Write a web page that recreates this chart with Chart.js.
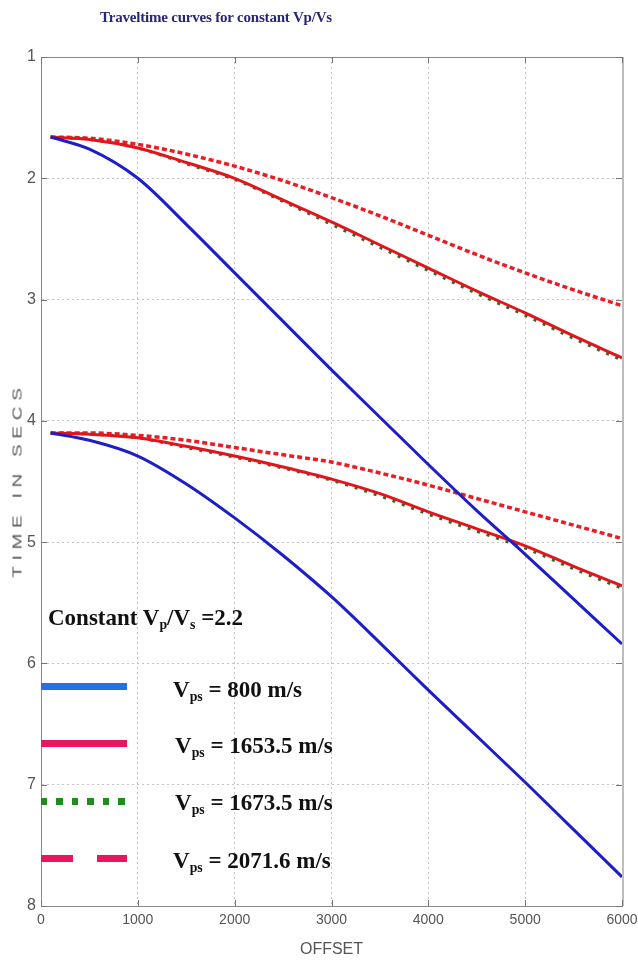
<!DOCTYPE html>
<html>
<head>
<meta charset="utf-8">
<script src="https://cdn.jsdelivr.net/npm/chart.js@4.4.1/dist/chart.umd.min.js"></script>
<style>
    html, body { margin: 0; padding: 0; background: #fff; }
    #wrap { position: relative; width: 638px; height: 964px; overflow: hidden; }
    #plot { position: absolute; left: 0; top: 0; }
    .title {
        position: absolute; left: 100px; top: 9px;
        font: bold 15px "Liberation Serif", "Times New Roman", serif;
        color: #27277a; white-space: nowrap; letter-spacing: -0.2px;
    }
    .ylab {
        position: absolute; left: 17px; top: 480px;
        transform: translate(-50%, -50%) rotate(-90deg) scaleX(1.45);
        font: 13px "Liberation Sans", Arial, sans-serif;
        letter-spacing: 4px; color: #555; white-space: nowrap;
    }
    .note {
        position: absolute; left: 48px;
        font: bold 23px "Liberation Serif", "Times New Roman", serif;
        line-height: 1; color: #111; white-space: nowrap;
    }
    .note sub { font-size: 60%; vertical-align: -0.3em; line-height: 0; }
    .swatch { position: absolute; left: 41px; width: 86px; height: 7px; }
</style>
</head>
<body>
<div id="wrap">
    <canvas id="plot" width="638" height="964"></canvas>
    <div class="title">Traveltime curves for constant Vp/Vs</div>
    <div class="ylab">TIME IN SECS</div>

    <div class="note" style="top:606px">Constant V<sub>p</sub>/V<sub>s</sub> =2.2</div>

    <div class="swatch" style="top:683px; background:#2470e4"></div>
    <div class="note" style="top:678px; left:173px">V<sub>ps</sub> = 800 m/s</div>

    <div class="swatch" style="top:740px; background:#e6175c"></div>
    <div class="note" style="top:734px; left:175px">V<sub>ps</sub> = 1653.5 m/s</div>

    <div class="swatch" style="top:798px; background:repeating-linear-gradient(90deg, #1f8c1f 0 6px, transparent 6px 15.5px)"></div>
    <div class="note" style="top:791px; left:175px">V<sub>ps</sub> = 1673.5 m/s</div>

    <div class="swatch" style="top:855px; background:linear-gradient(90deg, #e6175c 0 32px, transparent 32px 56px, #e6175c 56px)"></div>
    <div class="note" style="top:849px; left:173px">V<sub>ps</sub> = 2071.6 m/s</div>
</div>

<script>
// offsets (m) at which the curves were sampled
const offsets = [100, 500, 1000, 1500, 2000, 2500, 3000, 3500, 4000, 4500, 5000, 5500, 6000];

// upper reflector, two-way time in seconds
const upper800  = [1.66, 1.76, 2.00, 2.38, 2.78, 3.18, 3.58, 3.97, 4.36, 4.74, 5.10, 5.47, 5.84];
const upper1653 = [1.66, 1.68, 1.75, 1.87, 2.00, 2.18, 2.36, 2.55, 2.74, 2.93, 3.11, 3.30, 3.48];
const upper1673 = [1.66, 1.68, 1.75, 1.88, 2.01, 2.19, 2.38, 2.57, 2.76, 2.95, 3.13, 3.32, 3.50];
const upper2071 = [1.66, 1.67, 1.72, 1.80, 1.90, 2.02, 2.16, 2.31, 2.47, 2.63, 2.78, 2.92, 3.05];

// lower reflector
const lower800  = [4.10, 4.16, 4.29, 4.52, 4.80, 5.11, 5.45, 5.83, 6.22, 6.60, 6.98, 7.37, 7.76];
const lower1653 = [4.10, 4.11, 4.14, 4.21, 4.29, 4.38, 4.48, 4.60, 4.75, 4.89, 5.03, 5.20, 5.36];
const lower1673 = [4.10, 4.11, 4.14, 4.22, 4.30, 4.39, 4.49, 4.62, 4.77, 4.91, 5.05, 5.22, 5.38];
const lower2071 = [4.10, 4.10, 4.12, 4.16, 4.22, 4.28, 4.34, 4.43, 4.53, 4.64, 4.75, 4.86, 4.97];

// axis ticks
const xTicks = [0, 1000, 2000, 3000, 4000, 5000, 6000];
const yTicks = [1, 2, 3, 4, 5, 6, 7, 8];

const fontFamily = '"Liberation Sans", Arial, sans-serif';

function pts(times) {
    return offsets.map((x, i) => ({ x: x, y: times[i] }));
}

function curve(times, color, width, dash) {
    return {
        data: pts(times),
        borderColor: color,
        borderWidth: width,
        borderDash: dash,
        pointRadius: 0,
        fill: false,
        cubicInterpolationMode: 'monotone'
    };
}

// box round the plot plus short inward tick marks
const frame = {
    id: 'frame',
    beforeDatasetsDraw(chart) {
        const { ctx, chartArea: a, scales } = chart;
        ctx.save();
        ctx.strokeStyle = '#8a8a8a';
        ctx.lineWidth = 1;
        ctx.beginPath();
        ctx.moveTo(a.left, a.top + 0.5);
        ctx.lineTo(a.right, a.top + 0.5);
        ctx.stroke();
        ctx.strokeStyle = '#bdbdbd';
        ctx.lineWidth = 2;
        ctx.beginPath();
        ctx.moveTo(a.right + 1, a.top);
        ctx.lineTo(a.right + 1, a.bottom);
        ctx.stroke();

        ctx.strokeStyle = '#777';
        ctx.lineWidth = 1;
        ctx.beginPath();
        xTicks.forEach(v => {
            const px = Math.round(scales.x.getPixelForValue(v)) + 0.5;
            ctx.moveTo(px, a.bottom); ctx.lineTo(px, a.bottom - 6);
            ctx.moveTo(px, a.top); ctx.lineTo(px, a.top + 6);
        });
        yTicks.forEach(v => {
            const py = Math.round(scales.y.getPixelForValue(v)) + 0.5;
            ctx.moveTo(a.left, py); ctx.lineTo(a.left + 6, py);
            ctx.moveTo(a.right, py); ctx.lineTo(a.right - 6, py);
        });
        ctx.stroke();
        ctx.restore();
    }
};

new Chart(document.getElementById('plot'), {
    type: 'line',
    data: {
        datasets: [
            curve(upper800,  '#1e1ec8', 3, []),
            curve(lower800,  '#1e1ec8', 3, []),
            curve(upper1653, '#e3141c', 3, []),
            curve(lower1653, '#e3141c', 3, []),
            curve(upper1673, '#2e6a1e', 3, [3, 7]),
            curve(lower1673, '#2e6a1e', 3, [3, 7]),
            curve(upper2071, '#ec1c24', 3.5, [5, 3]),
            curve(lower2071, '#ec1c24', 3.5, [5, 3])
        ]
    },
    options: {
        responsive: false,
        animation: false,
        layout: { padding: { top: 57, right: 16, left: 0, bottom: 0 } },
        plugins: {
            legend: { display: false },
            tooltip: { enabled: false }
        },
        scales: {
            x: {
                type: 'linear',
                min: 0,
                max: 6000,
                afterBuildTicks: s => { s.ticks = xTicks.map(v => ({ value: v })); },
                ticks: { color: '#555', font: { family: fontFamily, size: 14 }, padding: 6, maxRotation: 0, autoSkip: false, callback: v => String(v) },
                grid: { color: '#c4c4c4', lineWidth: 1, drawTicks: false },
                border: { display: true, color: '#8a8a8a', width: 1, dash: [2, 3] },
                title: { display: true, text: 'OFFSET', color: '#555', font: { family: fontFamily, size: 16 }, padding: { top: 0, bottom: 5 } },
                afterFit: s => { s.height = 58; s.paddingLeft = 0; s.paddingRight = 0; }
            },
            y: {
                type: 'linear',
                reverse: true,
                min: 1,
                max: 8,
                afterBuildTicks: s => { s.ticks = yTicks.map(v => ({ value: v })); },
                ticks: { color: '#555', font: { family: fontFamily, size: 16 }, padding: 5, autoSkip: false },
                grid: { color: '#c4c4c4', lineWidth: 1, drawTicks: false },
                border: { display: true, color: '#8a8a8a', width: 1, dash: [2, 3] },
                afterFit: s => { s.width = 41; s.paddingTop = 0; s.paddingBottom = 0; }
            }
        }
    },
    plugins: [frame]
});
</script>
</body>
</html>
